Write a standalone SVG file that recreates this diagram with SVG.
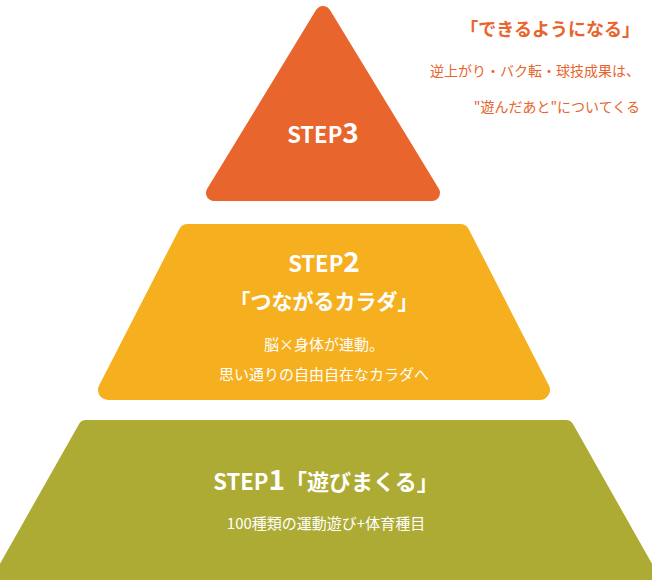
<svg xmlns="http://www.w3.org/2000/svg" width="652" height="580" viewBox="0 0 652 580">
<style>
text{font-family:"Noto Sans CJK JP","Noto Sans",sans-serif;}
.w{fill:#fff;text-anchor:middle}
.b{font-weight:bold}
.o{fill:#E8642C;text-anchor:end}
</style>
<g id="step3">
<polygon points="323,14 214,193 432,193" fill="#E8652D" stroke="#E8652D" stroke-width="16" stroke-linejoin="round"/>
<text class="w b" x="323" y="143" font-size="22">STEP<tspan font-size="28">3</tspan></text>
</g>
<g id="note">
<text class="o b" x="640" y="36" font-size="18">「できるようになる」</text>
<text class="o" x="640" y="76" font-size="14">逆上がり・バク転・球技成果は、</text>
<text class="o" x="640" y="112" font-size="14">"遊んだあと"についてくる</text>
</g>
<g id="step2">
<polygon points="188,234 460,234 540,390 108,390" fill="#F5AF1F" stroke="#F5AF1F" stroke-width="20" stroke-linejoin="round"/>
<text class="w b" x="324" y="272" font-size="22">STEP<tspan font-size="28">2</tspan></text>
<text class="w b" x="324" y="309" font-size="21">「つながるカラダ」</text>
<text class="w" x="324" y="350" font-size="15">脳×身体が連動。</text>
<text class="w" x="324" y="380" font-size="15">思い通りの自由自在なカラダへ</text>
</g>
<g id="step1">
<polygon points="86,428 566,428 652,580 0,580" fill="#ADAB34" stroke="#ADAB34" stroke-width="16" stroke-linejoin="round"/>
<text class="w b" x="326" y="490" font-size="22">STEP<tspan font-size="28">1</tspan>「遊びまくる」</text>
<text class="w" x="326" y="529" font-size="15">100種類の運動遊び+体育種目</text>
</g>
<g id="connectors"/>
</svg>
